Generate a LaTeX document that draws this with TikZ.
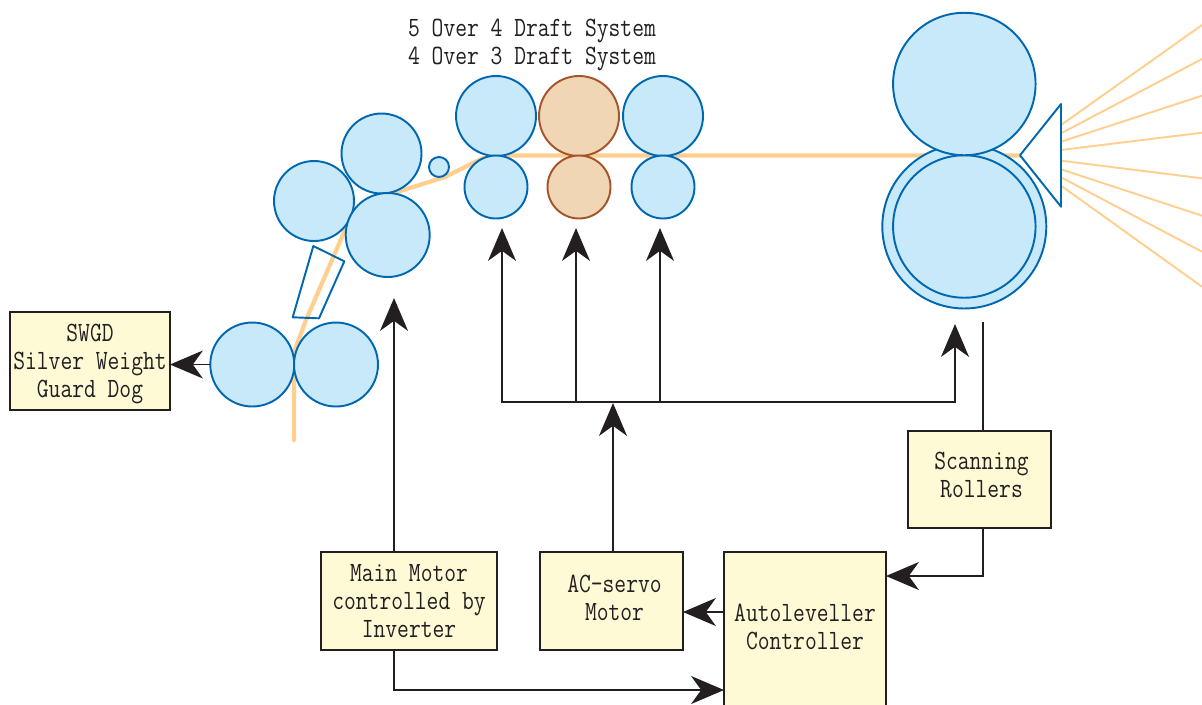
\documentclass[tikz,border=0pt]{standalone}
\usepackage{fontspec}
\setmonofont[FakeStretch=0.82]{Latin Modern Mono}
\usetikzlibrary{arrows.meta}
\definecolor{rollerline}{HTML}{0067B1}
\definecolor{rollerfill}{HTML}{C7E9FA}
\definecolor{brownline}{HTML}{A5542A}
\definecolor{brownfill}{HTML}{F0D6B5}
\definecolor{yarn}{HTML}{FFCF8F}
\definecolor{boxfill}{HTML}{FFFAD6}
\definecolor{ink}{HTML}{231F20}
\newcommand{\liftby}[1]{\rule[-#1]{0pt}{0pt}}
\tikzset{
    roller/.style={circle, draw=rollerline, fill=rollerfill, line width=1.1pt, inner sep=0pt, outer sep=0pt, minimum size=#1},
    brownroller/.style={roller=#1, draw=brownline, fill=brownfill},
    unitbox/.style={draw=ink, fill=boxfill, line width=1.1pt, inner xsep=0pt, outer sep=0pt, align=center, text=ink, font=\ttfamily\fontsize{15.9}{15.9}\selectfont},
    flow/.style={draw=ink, line width=1.1pt, -{Stealth[length=18.7pt, width=15.9pt, inset=5.7pt]}},
    plainflow/.style={draw=ink, line width=1.1pt, line cap=rect},
    sliver/.style={draw=yarn, line width=2.4pt, line cap=round, line join=round},
    fibre/.style={draw=yarn, line width=1.1pt}
}
\begin{document}
\begin{tikzpicture}[x=0.02cm, y=-0.02cm]
            \useasboundingbox (0,0) rectangle (1202,704);

            \draw[sliver] (294,440) -- (294,352) -- (306,320) -- (345,230) -- (370,205) -- (397,192) -- (445,177) -- (483,158) -- (510,155.5) -- (1020,155.5);
            \foreach \ya/\yb in {125/25, 133.3/59, 141.7/95.7, 150/132.7, 160.7/178.3, 169.3/215.7, 177.3/251.7, 185.7/286.7}
                \draw[fibre] (1061,\ya) -- (1202,\yb);

            \node[roller=1.6cm] (feedtop) at (381.5,153.5) {};
            \node[roller=1.6cm] (feedleft) at (314,201) {};
            \node[roller=1.68cm] (feedlow) at (387.7,235) {};
            \node[roller=0.4cm] (guide) at (439,167) {};
            \node[roller=1.68cm] (coilerl) at (252.3,364.5) {};
            \node[roller=1.68cm] (coilerr) at (336,364.5) {};
            \draw[draw=rollerline, line width=1.1pt, line join=round] (313.3,246) -- (344.3,261.3) -- (319,318.3) -- (292.7,317.3) -- cycle;

            \node[roller=1.6cm] (drafta) at (496,116) {};
            \node[brownroller=1.6cm] (draftb) at (579,116) {};
            \node[roller=1.6cm] (draftc) at (663,116) {};
            \node[roller=1.26cm] (draftd) at (496,187) {};
            \node[brownroller=1.26cm] (drafte) at (579,187) {};
            \node[roller=1.26cm] (draftf) at (663,187) {};

            \node[roller=3.28cm] (deliveryring) at (964.3,226.5) {};
            \node[roller=2.85cm] (deliverylow) at (964.3,226.5) {};
            \node[roller=2.85cm] (deliverytop) at (964.3,84) {};
            \draw[draw=rollerline, fill=white, line width=1.1pt, line join=round] (1020,155.3) -- (1061,104) -- (1061,206.7) -- cycle;

            \node[font=\ttfamily\fontsize{15.9}{15.9}\selectfont, text=ink, align=center] (title) at (532,45) {5 Over 4 Draft System\\4 Over 3 Draft System};

            \node[unitbox, minimum width=3.2cm, minimum height=1.96cm] (swgd) at (90,361) {\rule{0pt}{13.4pt}SWGD\\Silver Weight\\Guard Dog};
            \node[unitbox, minimum width=2.86cm, minimum height=1.94cm] (scan) at (979.5,479.5) {\hspace*{2.3pt}Scanning\\\hspace*{2.3pt}Rollers\liftby{5.7pt}};
            \node[unitbox, minimum width=3.52cm, minimum height=1.96cm] (main) at (409,601) {Main Motor\\controlled by\\Inverter};
            \node[unitbox, minimum width=2.86cm, minimum height=1.96cm] (servo) at (611.5,601) {\hspace*{3.4pt}AC-servo\\\hspace*{3.4pt}Motor\liftby{3.4pt}};
            \node[unitbox, minimum width=3.24cm, minimum height=3.12cm] (auto) at (805,630) {Autoleveller\\Controller\liftby{3.4pt}};

            \coordinate (mainup) at (394,298);
            \coordinate (servoup) at (613,403);
            \coordinate (busl) at (502,402);
            \coordinate (busm) at (576,402);
            \coordinate (busn) at (660,402);
            \coordinate (busr) at (955,402);
            \coordinate (tipa) at (502,228);
            \coordinate (tipb) at (576,228);
            \coordinate (tipc) at (660,228);
            \coordinate (tipd) at (955,324);
            \coordinate (scanend) at (983,323);
            \coordinate (autoin) at (724,690);
            \coordinate (autoscan) at (886,576);
            \coordinate (autoout) at (724,612);

            \draw[flow] (main.north -| mainup) -- (mainup);
            \draw[flow] (main.south -| mainup) |- (autoin);
            \draw[flow] (servo.north -| servoup) -- (servoup);
            \draw[plainflow] (busl) -- (busr);
            \draw[flow] (busl) -- (tipa);
            \draw[flow] (busm) -- (tipb);
            \draw[flow] (busn) -- (tipc);
            \draw[flow] (busr) -- (tipd);
            \draw[plainflow] (scan.north -| scanend) -- (scanend);
            \draw[flow] (scan.south -| scanend) |- (autoscan);
            \draw[flow] (autoout) -- (servo.east |- autoout);
            \draw[flow] (coilerl.west) -- (swgd.east |- coilerl);
\end{tikzpicture}
\end{document}
